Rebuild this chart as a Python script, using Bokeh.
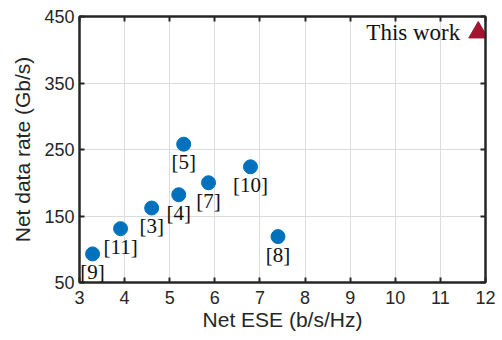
from bokeh.plotting import figure
from bokeh.models import LinearAxis, FixedTicker, Range1d, ColumnDataSource, CustomLabelingPolicy
from bokeh.core.properties import value
from bokeh.embed import file_html
from bokeh.resources import INLINE

# data
refs = ["[9]", "[11]", "[3]", "[4]", "[7]", "[5]", "[10]", "[8]"]
ese = [3.29, 3.91, 4.60, 5.20, 5.86, 5.31, 6.79, 7.40]
rate = [93, 131, 162, 182, 200, 258, 224, 119]
this_ese = [11.84]
this_rate = [426]
this_label = ["This work"]
x_ticks = [3, 4, 5, 6, 7, 8, 9, 10, 11, 12]
y_ticks = [50, 150, 250, 350, 450]

p = figure(width=500, height=338, output_backend="svg", toolbar_location=None,
           x_range=Range1d(3, 12), y_range=Range1d(50, 450),
           min_border_left=79, min_border_top=16, min_border_right=15,
           min_border_bottom=56)
p.background_fill_color = "white"
p.border_fill_color = "white"
p.outline_line_color = "#262626"
p.outline_line_width = 2

tick_color = "#262626"
for ax in (p.xaxis[0], p.yaxis[0]):
    ax.major_tick_in = 5
    ax.major_tick_out = 0
    ax.minor_tick_in = 0
    ax.minor_tick_out = 0
    ax.axis_line_color = tick_color
    ax.axis_line_width = 2
    ax.major_tick_line_color = tick_color
    ax.major_tick_line_width = 2
    ax.major_label_text_font = "Liberation Sans"
    ax.major_label_text_font_size = "18px"
    ax.major_label_text_color = tick_color
    ax.axis_label_text_font = "Liberation Sans"
    ax.axis_label_text_font_size = "21px"
    ax.axis_label_text_font_style = "normal"
    ax.axis_label_text_color = tick_color

p.xaxis[0].ticker = FixedTicker(ticks=x_ticks)
p.yaxis[0].ticker = FixedTicker(ticks=y_ticks)
p.xaxis[0].axis_label = "Net ESE (b/s/Hz)"
p.yaxis[0].axis_label = "Net data rate (Gb/s)"
p.xaxis[0].major_label_standoff = 8
p.xaxis[0].axis_label_standoff = 1
p.yaxis[0].major_label_standoff = 5
p.yaxis[0].axis_label_standoff = 7

hide_labels = CustomLabelingPolicy(
    code="const all = [...indices]; for (const i of all) indices.unset(i); return indices")

for loc, ticks in (("above", x_ticks), ("right", y_ticks)):
    ax = LinearAxis(ticker=FixedTicker(ticks=ticks))
    ax.major_tick_in = 5
    ax.major_tick_out = 0
    ax.minor_tick_in = 0
    ax.minor_tick_out = 0
    ax.axis_line_color = tick_color
    ax.axis_line_width = 2
    ax.major_tick_line_color = tick_color
    ax.major_tick_line_width = 2
    ax.major_label_policy = hide_labels
    ax.major_label_text_font_size = "1px"
    ax.major_label_standoff = 0
    p.add_layout(ax, loc)

p.xgrid.ticker = FixedTicker(ticks=x_ticks)
p.ygrid.ticker = FixedTicker(ticks=y_ticks)
p.xgrid.grid_line_color = "#dcdcdc"
p.ygrid.grid_line_color = "#dcdcdc"
p.xgrid.grid_line_width = 1
p.ygrid.grid_line_width = 1

src = ColumnDataSource(dict(x=ese, y=rate, label=refs))
p.scatter("x", "y", source=src, size=14, fill_color="#0072BD", line_color="#0072BD")
p.text("x", "y", text="label", source=src, text_font=value("Liberation Serif"),
       text_font_size="21px", text_align="center", text_baseline="middle",
       y_offset=18, text_color="#111111")

tsrc = ColumnDataSource(dict(x=this_ese, y=this_rate, label=this_label))
p.scatter("x", "y", source=tsrc, marker="triangle", size=19,
          fill_color="#A2142F", line_color="#A2142F")
p.text("x", "y", text="label", source=tsrc, text_font=value("Liberation Serif"),
       text_font_size="23px", text_align="right", text_baseline="middle",
       x_offset=-18, y_offset=0, text_color="#111111")

open("out.html", "w").write(file_html(p, INLINE))
